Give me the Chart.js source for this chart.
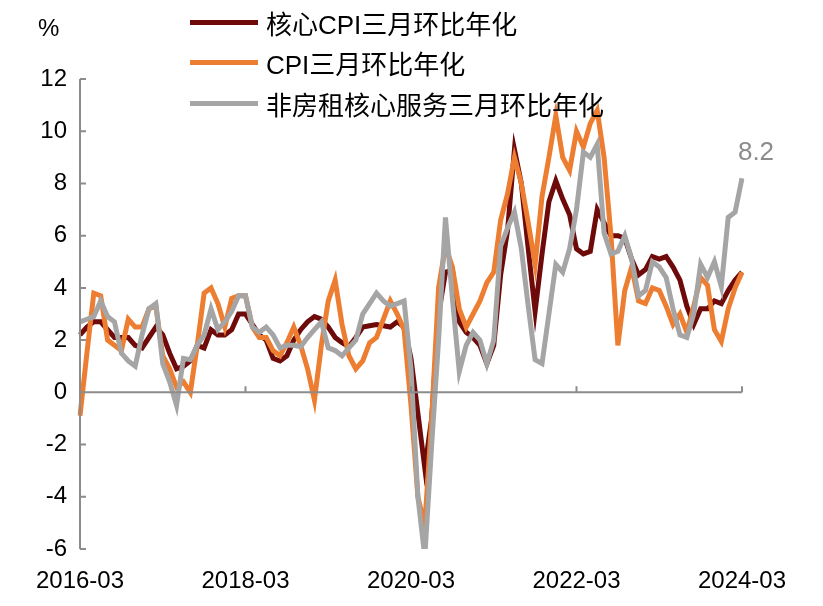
<!DOCTYPE html>
<html><head><meta charset="utf-8">
<script src="https://cdn.jsdelivr.net/npm/chart.js@4"></script>
<style>
body{margin:0;background:#fff;}
#wrap{position:relative;width:823px;height:606px;}
.lg{position:absolute;left:190px;font:26px "Liberation Sans","Noto Sans CJK SC",sans-serif;color:#000;display:flex;align-items:center;white-space:nowrap;}
.lg span{display:inline-block;width:68px;height:5px;margin-right:8px;}
#pct{position:absolute;left:38px;top:14px;font:24px "Liberation Sans",sans-serif;}
</style></head>
<body><div id="wrap"><canvas id="c" width="823" height="606"></canvas>
<div id="pct">%</div>
<div class="lg" style="top:4px"><span style="background:#6E0A0A"></span>核心CPI三月环比年化</div>
<div class="lg" style="top:44px"><span style="background:#ED7D31"></span>CPI三月环比年化</div>
<div class="lg" style="top:85px"><span style="background:#A5A5A5"></span>非房租核心服务三月环比年化</div>
</div>
<script>
const months = [];
for (let y = 2016, m = 3; months.length < 97; ) { months.push(y + '-' + String(m).padStart(2, '0')); m++; if (m > 12) { m = 1; y++; } }
const coreCPI = [2.2,2.5,2.7,2.7,2.4,2.1,2.1,2.1,1.8,1.7,2.1,2.5,2.2,1.5,0.9,1.0,1.2,1.8,1.7,2.4,2.2,2.2,2.4,3.0,3.0,2.6,2.2,2.0,1.3,
 1.2,1.4,2.0,2.4,2.7,2.9,2.8,2.5,2.1,1.9,1.75,2.1,2.5,2.55,2.6,2.55,2.5,2.7,2.5,1.3,-0.8,-2.9,-1.0,
 3.0,4.6,4.7,2.7,2.3,2.1,1.8,1.1,1.8,4.5,6.2,9.3,8.0,5.5,3.1,5.3,7.3,8.1,7.4,6.8,5.5,5.3,5.4,7.0,
 6.5,6.0,6.0,5.9,5.1,4.5,4.7,5.2,5.1,5.2,4.8,4.3,3.3,2.6,3.2,3.2,3.5,3.4,3.9,4.3,4.6];
const cpi = [-0.9,1.5,3.8,3.7,2.0,1.8,1.6,2.8,2.5,2.5,3.2,3.3,1.4,0.9,0.2,0.4,0.0,1.8,3.8,4.0,3.4,2.5,3.6,3.7,3.7,2.5,2.1,2.1,1.6,
 1.4,1.9,2.5,1.8,0.9,-0.3,1.8,3.5,4.3,2.6,1.4,0.9,1.2,1.9,2.1,2.8,3.5,3.0,2.4,-0.5,-4.0,-5.1,-1.0,
 4.0,5.6,4.8,3.2,2.5,3.0,3.5,4.2,4.6,6.6,7.6,9.0,8.0,6.5,4.9,7.5,9.0,10.6,9.0,8.5,10.0,9.4,10.3,10.8,
 9.0,6.0,1.8,3.9,4.8,3.5,3.4,4.0,3.9,3.3,2.6,3.0,2.3,3.3,4.4,4.1,2.4,1.95,3.2,4.0,4.6];
const superCore = [2.7,2.8,2.9,3.5,2.9,2.7,1.5,1.2,1.0,2.2,3.2,3.4,1.1,0.4,-0.5,1.3,1.25,1.8,2.2,3.2,2.4,2.7,3.1,3.7,3.7,2.5,2.3,2.5,2.2,
 1.7,1.8,1.8,1.75,2.1,2.4,2.7,1.7,1.6,1.4,1.7,2.0,3.0,3.4,3.8,3.5,3.3,3.4,3.5,0.9,-4.0,-6.3,-2.0,
 2.0,6.7,3.6,0.8,1.8,2.3,2.0,1.1,2.0,5.6,6.3,6.9,5.5,3.3,1.25,1.1,3.0,4.9,4.6,5.5,7.0,9.2,9.0,9.5,
 6.1,5.3,5.4,6.0,5.1,3.7,3.9,5.0,4.8,4.4,3.2,2.2,2.1,3.0,4.9,4.4,5.0,4.05,6.7,6.9,8.2];
const names = ['核心CPI三月环比年化','CPI三月环比年化','非房租核心服务三月环比年化'];
const yTicks = [-6,-4,-2,0,2,4,6,8,10,12];
const FONT = '"Liberation Sans","Noto Sans CJK SC",sans-serif';

const axesPlugin = {
  id: 'axes',
  afterDatasetsDraw(chart) {
    const {ctx, chartArea: a, scales: {x, y}} = chart;
    ctx.save();
    ctx.strokeStyle = '#8c8c8c'; ctx.lineWidth = 2;
    const y0 = y.getPixelForValue(0);
    ctx.beginPath(); ctx.moveTo(a.left, y0); ctx.lineTo(a.right, y0);
    ctx.moveTo(a.left, a.top); ctx.lineTo(a.left, a.bottom);
    months.forEach((m, i) => { if (i % 24 === 0 && i > 0) { const px = x.getPixelForValue(i); ctx.moveTo(px, y0); ctx.lineTo(px, y0 - 6); } });
    yTicks.forEach(v => { const py = y.getPixelForValue(v); ctx.moveTo(a.left, py); ctx.lineTo(a.left + 6, py); });
    ctx.stroke();
    const last = superCore.length - 1;
    const lx = x.getPixelForValue(last), ly = y.getPixelForValue(superCore[last]);
    ctx.fillStyle = '#8c8c8c'; ctx.font = '26px ' + FONT; ctx.textAlign = 'center'; ctx.textBaseline = 'bottom';
    ctx.fillText(superCore[last].toFixed(1), lx + 14, ly - 12);
    ctx.restore();
  }
};

new Chart(document.getElementById('c'), {
  type: 'line',
  data: {
    labels: months,
    datasets: [
      {label: names[2], data: superCore, borderColor: '#A5A5A5', borderWidth: 5, pointRadius: 0, tension: 0},
      {label: names[1], data: cpi, borderColor: '#ED7D31', borderWidth: 5, pointRadius: 0, tension: 0},
      {label: names[0], data: coreCPI, borderColor: '#6E0A0A', borderWidth: 5, pointRadius: 0, tension: 0}
    ]
  },
  options: {
    responsive: false, animation: false,
    layout: {padding: {top: 79, right: 81, left: 0, bottom: 0}},
    plugins: {legend: {display: false}, tooltip: {enabled: false}},
    scales: {
      x: {
        offset: false,
        grid: {display: false}, border: {display: false},
        ticks: {autoSkip: false, maxRotation: 0, color: '#000', font: {size: 24, family: FONT}, padding: 10,
          callback: (v, i) => i % 24 === 0 ? months[i] : ''},
        afterFit: s => { s.height = 57; }
      },
      y: {
        min: -6, max: 12,
        grid: {display: false}, border: {display: false},
        afterBuildTicks: s => { s.ticks = yTicks.map(v => ({value: v})); },
        ticks: {color: '#000', font: {size: 24, family: FONT}, padding: 5},
        afterFit: s => { s.width = 80; }
      }
    }
  },
  plugins: [axesPlugin]
});
</script></body></html>
